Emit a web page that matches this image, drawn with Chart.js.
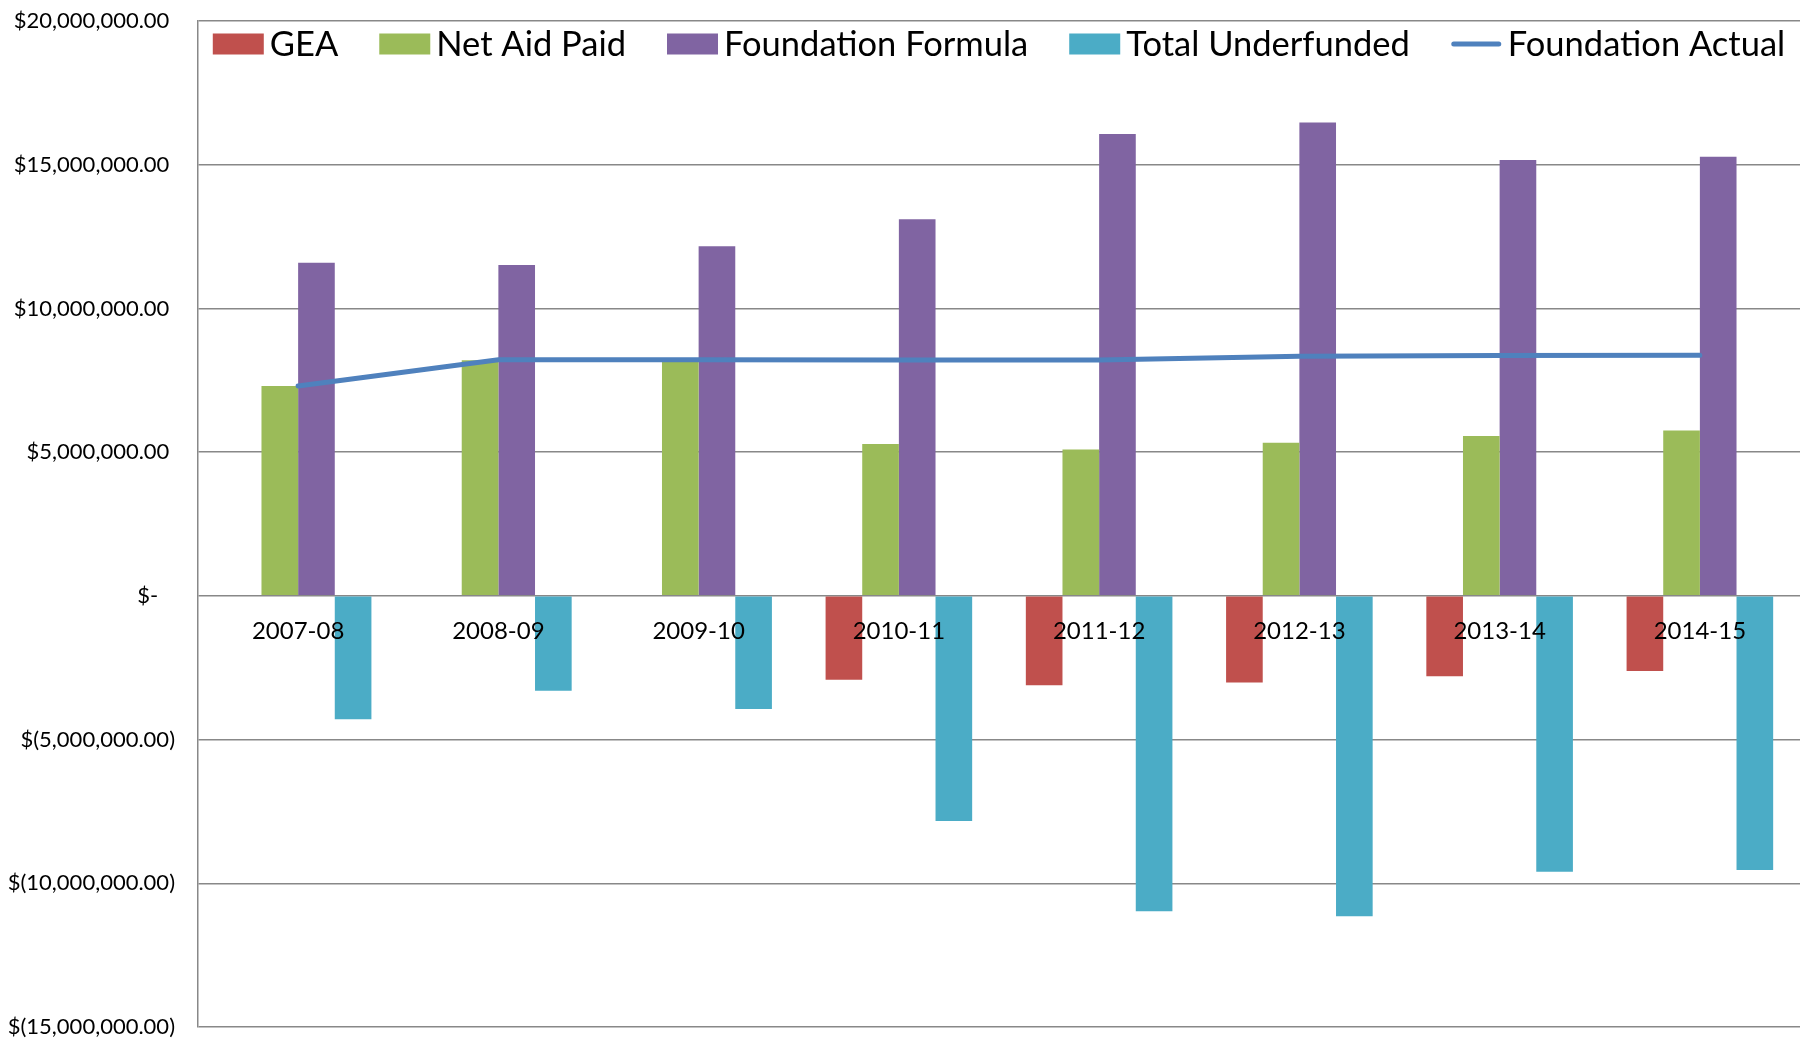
<!DOCTYPE html>
<html>
<head>
<meta charset="utf-8">
<script src="https://cdn.jsdelivr.net/npm/chart.js@4.4.1/dist/chart.umd.min.js"></script>
<style>
  html, body { margin: 0; padding: 0; background: #fff; }
</style>
</head>
<body>
<canvas id="chart" width="1800" height="1045"></canvas>
<script>
// school years on the category axis
const years = ['2007-08', '2008-09', '2009-10', '2010-11', '2011-12', '2012-13', '2013-14', '2014-15'];

// values, in dollars
const gea = [0, 0, 0, -2920000, -3110000, -3015000, -2795000, -2610000];
const netAidPaid = [7300000, 8200000, 8180000, 5280000, 5095000, 5325000, 5565000, 5755000];
const foundationFormula = [11590000, 11515000, 12165000, 13105000, 16065000, 16470000, 15160000, 15275000];
const totalUnderfunded = [-4290000, -3305000, -3940000, -7830000, -10970000, -11145000, -9600000, -9535000];
const foundationActual = [7300000, 8215000, 8215000, 8205000, 8205000, 8340000, 8365000, 8370000];

// y axis ticks, accounting style like the spreadsheet
const yTickValues = [20000000, 15000000, 10000000, 5000000, 0, -5000000, -10000000, -15000000];
const yTickLabels = ['$20,000,000.00', '$15,000,000.00', '$10,000,000.00', '$5,000,000.00', '$-',
  '$(5,000,000.00)', '$(10,000,000.00)', '$(15,000,000.00)'];

const FONT = 'Lato, "Open Sans", sans-serif';

// legend sits inside the plot area at the top, so draw it ourselves
const topLegend = {
  id: 'topLegend',
  afterDraw(chart) {
    const ctx = chart.ctx;
    const area = chart.chartArea;
    const sw = 51, gap = 6, spacing = 41, cy = 44;
    ctx.save();
    ctx.font = '34.5px ' + FONT;
    const items = chart.data.datasets.map(d => ({
      text: d.label,
      color: d.type === 'line' ? d.borderColor : d.backgroundColor,
      line: d.type === 'line'
    }));
    let total = 0;
    items.forEach((it, i) => {
      it.w = ctx.measureText(it.text).width;
      total += sw + gap + it.w + (i ? spacing : 0);
    });
    let x = (area.left + area.right) / 2 - total / 2;
    items.forEach(it => {
      if (it.line) {
        ctx.strokeStyle = it.color;
        ctx.lineWidth = 5;
        ctx.lineCap = 'round';
        ctx.beginPath();
        ctx.moveTo(x + 3, cy);
        ctx.lineTo(x + sw - 3, cy);
        ctx.stroke();
      } else {
        ctx.fillStyle = it.color;
        ctx.fillRect(x, cy - 10.5, sw, 21);
      }
      ctx.fillStyle = '#000';
      ctx.textBaseline = 'middle';
      ctx.textAlign = 'left';
      ctx.fillText(it.text, x + sw + gap, cy + 1);
      x += sw + gap + it.w + spacing;
    });
    ctx.restore();
  }
};

const barOpts = { categoryPercentage: 0.732, barPercentage: 1.0, borderWidth: 0, order: 1 };

new Chart(document.getElementById('chart'), {
  type: 'bar',
  data: {
    labels: years,
    datasets: [
      { label: 'GEA', data: gea, backgroundColor: '#C0504D', ...barOpts },
      { label: 'Net Aid Paid', data: netAidPaid, backgroundColor: '#9BBB59', ...barOpts },
      { label: 'Foundation Formula', data: foundationFormula, backgroundColor: '#8064A2', ...barOpts },
      { label: 'Total Underfunded', data: totalUnderfunded, backgroundColor: '#4BACC6', ...barOpts },
      {
        type: 'line', label: 'Foundation Actual', data: foundationActual,
        borderColor: '#4F81BD', backgroundColor: '#4F81BD', borderWidth: 5,
        pointRadius: 0, tension: 0, borderCapStyle: 'round', order: 0
      }
    ]
  },
  options: {
    responsive: false,
    devicePixelRatio: 1,
    animation: false,
    layout: { padding: { left: 0, top: 21, right: 0, bottom: 18 } },
    plugins: { legend: { display: false }, tooltip: { enabled: false } },
    scales: {
      x: {
        position: { y: 0 },
        offset: true,
        grid: { display: false, drawTicks: false },
        border: { display: false },
        afterFit(s) { s.paddingLeft = 0; s.paddingRight = 0; },
        ticks: { z: 1, color: '#000', font: { family: FONT, size: 24 }, padding: 21, maxRotation: 0, autoSkip: false }
      },
      y: {
        min: -15000000,
        max: 20000000,
        afterFit(s) { s.width = 198; s.paddingTop = 0; s.paddingBottom = 0; },
        grid: { color: '#888', lineWidth: 1.5, drawTicks: false },
        border: { color: '#888', width: 1.5 },
        ticks: {
          stepSize: 5000000,
          color: '#000',
          font: { family: FONT, size: 22 },
          padding: 23,
          callback(v) {
            const label = yTickLabels[yTickValues.indexOf(v)];
            if (v === 0) return label + '   ';
            return v > 0 ? label + ' ' : label;
          }
        }
      }
    }
  },
  plugins: [topLegend]
});
</script>
</body>
</html>
